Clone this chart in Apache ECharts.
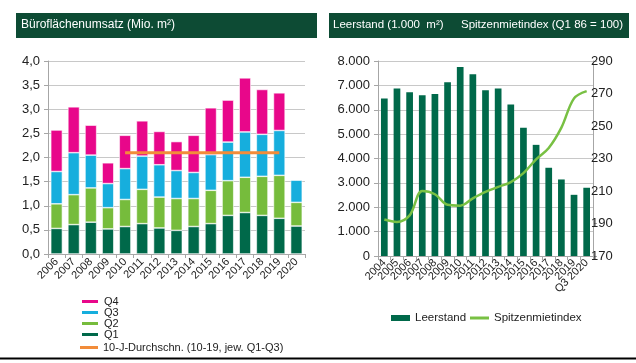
<!DOCTYPE html>
<html><head><meta charset="utf-8">
<script src="https://cdn.jsdelivr.net/npm/echarts@6/dist/echarts.min.js"></script>
<style>html,body{margin:0;padding:0;background:#fff}#c{width:636px;height:363px}</style>
</head><body><div id="c"></div>
<script>
// Left chart: Büroflächenumsatz (Mio. m²)
const years = ['2006','2007','2008','2009','2010','2011','2012','2013','2014','2015','2016','2017','2018','2019','2020'];
const q1 = [0.53,0.61,0.66,0.52,0.57,0.63,0.54,0.49,0.57,0.63,0.80,0.86,0.80,0.74,0.58];
const q2 = [0.51,0.62,0.71,0.44,0.56,0.71,0.64,0.66,0.58,0.69,0.72,0.73,0.81,0.89,0.49];
const q3 = [0.67,0.87,0.68,0.50,0.64,0.69,0.67,0.58,0.54,0.74,0.80,0.94,0.87,0.93,0.46];
const q4 = [0.86,0.95,0.62,0.43,0.69,0.73,0.69,0.60,0.77,0.97,0.87,1.12,0.93,0.78,null];
const avg10 = [null,null,null,null,2.1,2.1,2.1,2.1,2.1,2.1,2.1,2.1,2.1,2.1,null];
const leftTicks = {min:0, max:4, interval:0.5};

// Right chart: Leerstand / Spitzenmietindex
const periods = ['2004','2005','2006','2007','2008','2009','2010','2011','2012','2013','2014','2015','2016','2017','2018','2019','Q3 2020'];
const leerstand = [6460,6870,6720,6590,6650,7130,7750,7460,6800,6870,6220,5260,4560,3620,3140,2510,2800];
const spitzenmiete = [192.5,191,195,210,208,201.5,201,205.5,209.5,212.5,215.5,221,229.5,236.5,249,267,271.5];
const leerTicks = {min:0, max:8000, interval:1000};
const indexTicks = {min:170, max:290, interval:20};

const FONT = '"Liberation Sans", Arial, sans-serif';
const C_Q1='#00694A', C_Q2='#76BC3C', C_Q3='#16AEDD', C_Q4='#E8078A', C_AVG='#F28C3A';
const C_LINE='#78C043', TITLE_BG='#0D4B34';
const axisGray = '#A6A6A6', gridGray = '#C8C8C8', txt = '#222';

const chart = echarts.init(document.getElementById('c'), null, {renderer:'canvas'});
const barBase = {type:'bar', stack:'u', xAxisIndex:0, yAxisIndex:0, barWidth:'68%'};
const bs = c => ({color:c, borderColor:'#fff', borderWidth:0.6});
const leftAvgName = '10-J-Durchschn. (10-19, jew. Q1-Q3)';
const legText = {fontSize:11, color:txt, fontFamily:FONT};

chart.setOption({
  animation:false,
  textStyle:{fontFamily:FONT},
  graphic:[
    {type:'rect', shape:{x:16,y:13,width:301,height:25}, style:{fill:TITLE_BG}},
    {type:'text', left:21, top:19, style:{text:'Büroflächenumsatz (Mio. m²)', fill:'#fff', font:'12px '+FONT}},
    {type:'rect', shape:{x:329,y:13,width:300,height:25}, style:{fill:TITLE_BG}},
    {type:'text', left:333, top:19, style:{text:'Leerstand (1.000  m²)', fill:'#fff', font:'11.5px '+FONT}},
    {type:'text', left:461, top:19, style:{text:'Spitzenmietindex (Q1 86 = 100)', fill:'#fff', font:'11.5px '+FONT}},
    {type:'line', shape:{x1:0,y1:358.5,x2:636,y2:358.5}, style:{stroke:'#000', lineWidth:2}}
  ],
  grid:[
    {left:48, right:331, top:61, bottom:109},
    {left:378, right:43, top:61, bottom:107}
  ],
  legend:[
    {orient:'vertical', left:75, top:291, height:60, itemWidth:18, itemHeight:5, itemGap:0,
     textStyle:legText,
     data:[{name:'Q4',icon:'rect'},{name:'Q3',icon:'rect'},{name:'Q2',icon:'rect'},{name:'Q1',icon:'rect'}]},
    {orient:'vertical', left:75, top:337, itemWidth:18, itemHeight:3, itemGap:0,
     textStyle:legText, data:[{name:leftAvgName, icon:'rect'}]},
    {orient:'horizontal', left:386, top:307, itemWidth:19, itemHeight:6, itemGap:4,
     textStyle:{fontSize:11.5, color:txt, fontFamily:FONT},
     data:[{name:'Leerstand',icon:'rect'}]},
    {orient:'horizontal', left:465, top:307, itemWidth:19, itemHeight:3, itemGap:4,
     textStyle:{fontSize:11.5, color:txt, fontFamily:FONT},
     data:[{name:'Spitzenmietindex',icon:'rect'}]}
  ],
  xAxis:[
    {type:'category', gridIndex:0, data:years, boundaryGap:true,
     axisLine:{lineStyle:{color:axisGray}}, axisTick:{show:true, length:4, lineStyle:{color:axisGray}},
     axisLabel:{rotate:45, interval:0, fontSize:11, color:txt, margin:6}},
    {type:'category', gridIndex:1, data:periods, boundaryGap:true,
     axisLine:{lineStyle:{color:axisGray}}, axisTick:{show:true, length:4, lineStyle:{color:axisGray}},
     axisLabel:{rotate:45, interval:0, fontSize:11, color:txt, margin:5}}
  ],
  yAxis:[
    {type:'value', gridIndex:0, min:leftTicks.min, max:leftTicks.max, interval:leftTicks.interval,
     axisLine:{show:true, lineStyle:{color:axisGray}}, axisTick:{show:true, length:4, lineStyle:{color:axisGray}},
     splitLine:{lineStyle:{color:gridGray}},
     axisLabel:{fontSize:13, color:txt, margin:8, formatter:v=>v.toFixed(1).replace('.',',')}},
    {type:'value', gridIndex:1, min:leerTicks.min, max:leerTicks.max, interval:leerTicks.interval,
     axisLine:{show:true, lineStyle:{color:axisGray}}, axisTick:{show:true, length:4, lineStyle:{color:axisGray}},
     splitLine:{lineStyle:{color:gridGray}},
     axisLabel:{fontSize:13, color:txt, margin:8, formatter:v=>v===0?'0':(v/1000).toFixed(3)}},
    {type:'value', gridIndex:1, position:'right', min:indexTicks.min, max:indexTicks.max, interval:indexTicks.interval,
     alignTicks:false,
     axisLine:{show:true, lineStyle:{color:axisGray}}, axisTick:{show:true, length:4, lineStyle:{color:axisGray}},
     splitLine:{show:false},
     axisLabel:{fontSize:13, color:txt, margin:-2}}
  ],
  series:[
    Object.assign({name:'Q1', data:q1, itemStyle:bs(C_Q1)}, barBase),
    Object.assign({name:'Q2', data:q2, itemStyle:bs(C_Q2)}, barBase),
    Object.assign({name:'Q3', data:q3, itemStyle:bs(C_Q3)}, barBase),
    Object.assign({name:'Q4', data:q4, itemStyle:bs(C_Q4)}, barBase),
    {name:leftAvgName, type:'line', xAxisIndex:0, yAxisIndex:0, data:avg10, symbol:'none', showSymbol:false,
     connectNulls:false, lineStyle:{color:C_AVG, width:3}, itemStyle:{color:C_AVG}, z:5},
    {name:'Leerstand', type:'bar', xAxisIndex:1, yAxisIndex:1, data:leerstand, barWidth:'53%',
     itemStyle:{color:C_Q1}},
    {name:'Spitzenmietindex', type:'line', xAxisIndex:1, yAxisIndex:2, data:spitzenmiete, smooth:0.35,
     symbol:'none', showSymbol:false, lineStyle:{color:C_LINE, width:2.5}, itemStyle:{color:C_LINE}, z:5}
  ]
});
</script></body></html>
